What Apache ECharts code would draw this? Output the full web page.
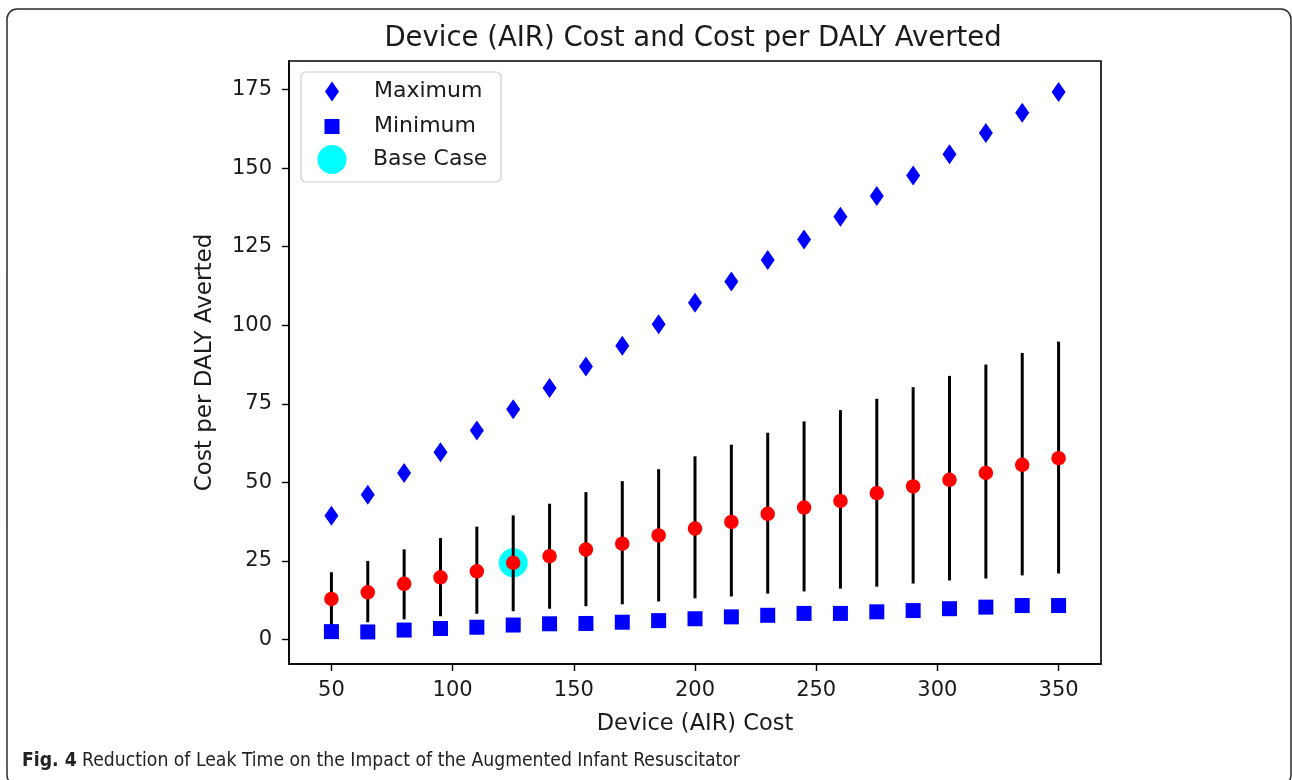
<!DOCTYPE html>
<html>
<head>
<meta charset="utf-8">
<script src="https://cdn.jsdelivr.net/npm/echarts@6/dist/echarts.min.js"></script>
<style>
  html, body { margin: 0; padding: 0; background: #fff; }
  #chart { width: 1292px; height: 780px; }
</style>
</head>
<body>
<div id="chart"></div>
<script>
const deviceCost = [50, 65, 80, 95, 110, 125, 140, 155, 170, 185, 200, 215, 230, 245, 260, 275, 290, 305, 320, 335, 350];
const maximumValues = [39.4, 46.1, 53.0, 59.6, 66.5, 73.3, 80.0, 86.9, 93.5, 100.3, 107.2, 113.9, 120.8, 127.3, 134.5, 141.1, 147.7, 154.4, 161.2, 167.6, 174.2];
const minimumValues = [2.5, 2.4, 3.0, 3.5, 3.9, 4.6, 5.0, 5.1, 5.5, 6.0, 6.6, 7.2, 7.7, 8.3, 8.3, 8.8, 9.2, 9.8, 10.3, 10.8, 10.8];
const meanValues = [12.9, 15.0, 17.7, 19.8, 21.7, 24.4, 26.5, 28.6, 30.5, 33.1, 35.3, 37.4, 40.0, 42.0, 44.1, 46.6, 48.7, 50.8, 53.0, 55.6, 57.7];
const errorLow = [4.6, 5.5, 6.4, 7.4, 8.2, 9.0, 9.8, 10.6, 11.2, 12.1, 13.1, 13.7, 14.6, 15.3, 16.2, 16.8, 17.8, 18.8, 19.4, 20.4, 21.0];
const errorHigh = [21.4, 25.0, 28.7, 32.3, 35.9, 39.5, 43.2, 46.9, 50.4, 54.2, 58.3, 62.0, 65.8, 69.4, 73.0, 76.6, 80.3, 83.9, 87.5, 91.2, 94.8];
const baseCaseX = [125];
const baseCaseY = [24.4];
const xTicks = [50, 100, 150, 200, 250, 300, 350];
const yTicks = [0, 25, 50, 75, 100, 125, 150, 175];
const titleText = 'Device (AIR) Cost and Cost per DALY Averted';
const xAxisName = 'Device (AIR) Cost';
const yAxisName = 'Cost per DALY Averted';
const captionBold = 'Fig. 4';
const captionRest = ' Reduction of Leak Time on the Impact of the Augmented Infant Resuscitator';

const FONT = 'DejaVu Sans';
const CAPFONT = '"Liberation Sans Narrow", "DejaVu Sans Condensed", sans-serif';
const pair = (xs, ys) => xs.map((x, i) => [x, ys[i]]);

const chart = echarts.init(document.getElementById('chart'), null, { renderer: 'canvas' });

const legendCommon = {
  orient: 'vertical', padding: 0, selectedMode: false, z: 6,
  textStyle: { fontFamily: FONT, fontSize: 22, color: '#1a1a1a' }
};

const option = {
  backgroundColor: '#fff',
  animation: false,
  title: {
    text: titleText, left: 688, top: 20, textAlign: 'center',
    textStyle: { fontFamily: FONT, fontSize: 27.5, fontWeight: 'normal', color: '#1a1a1a' }
  },
  grid: { left: 289, top: 61, right: 191, bottom: 116, show: true, borderColor: '#000', borderWidth: 1.6, backgroundColor: 'transparent' },
  xAxis: {
    type: 'value', min: 32.5, max: 367.5,
    name: xAxisName, nameLocation: 'middle', nameGap: 49,
    nameTextStyle: { fontFamily: FONT, fontSize: 22.5, color: '#1a1a1a' },
    axisLine: { show: true, onZero: false, lineStyle: { color: '#000', width: 1.6 } },
    axisTick: { show: true, length: 7, customValues: xTicks, lineStyle: { color: '#000', width: 1.4 } },
    axisLabel: { customValues: xTicks, margin: 16, fontFamily: FONT, fontSize: 21, color: '#1a1a1a' },
    splitLine: { show: false }
  },
  yAxis: {
    type: 'value', min: -7.8, max: 184.1,
    name: yAxisName, nameLocation: 'middle', nameGap: 72,
    nameTextStyle: { fontFamily: FONT, fontSize: 23, color: '#1a1a1a' },
    axisLine: { show: true, onZero: false, lineStyle: { color: '#000', width: 1.6 } },
    axisTick: { show: true, length: 7, customValues: yTicks, lineStyle: { color: '#000', width: 1.4 } },
    axisLabel: { customValues: yTicks, margin: 17, fontFamily: FONT, fontSize: 21, color: '#1a1a1a' },
    splitLine: { show: false }
  },
  legend: [
    Object.assign({}, legendCommon, {
      data: [{ name: 'Maximum', icon: 'diamond' }], left: 325, top: 80.5, itemWidth: 14, itemHeight: 20,
      textStyle: Object.assign({}, legendCommon.textStyle, { padding: [0, 0, 0, 30] })
    }),
    Object.assign({}, legendCommon, {
      data: [{ name: 'Minimum', icon: 'rect' }], left: 324.5, top: 115.5, itemWidth: 15, itemHeight: 15,
      textStyle: Object.assign({}, legendCommon.textStyle, { padding: [0, 0, 0, 29.5] })
    }),
    Object.assign({}, legendCommon, {
      data: [{ name: 'Base Case', icon: 'circle' }], left: 317.5, top: 145, itemWidth: 29, itemHeight: 29,
      textStyle: Object.assign({}, legendCommon.textStyle, { padding: [0, 0, 0, 21.5] })
    })
  ],
  graphic: [
    {
      type: 'rect', z: -10, silent: true,
      shape: { x: 7, y: 9, width: 1284, height: 776, r: 10 },
      style: { fill: 'none', stroke: '#2a2a2a', lineWidth: 1.5 }
    },
    {
      type: 'rect', z: 1, silent: true,
      shape: { x: 301, y: 72, width: 200, height: 110, r: 5 },
      style: { fill: 'rgba(255,255,255,0.8)', stroke: '#d0d0d0', lineWidth: 1.2 }
    },
    {
      type: 'text', x: 22, y: 752, silent: true,
      style: {
        text: '{b|' + captionBold + '}' + captionRest,
        font: '19.2px ' + CAPFONT,
        fill: '#222',
        rich: { b: { fontWeight: 'bold', fontSize: 19.2, fontFamily: CAPFONT, fill: '#222' } }
      }
    }
  ],
  series: [
    {
      name: 'Base Case', type: 'scatter', z: 1,
      data: pair(baseCaseX, baseCaseY), symbol: 'circle', symbolSize: 29,
      itemStyle: { color: '#00ffff', opacity: 1 }
    },
    {
      name: 'Range', type: 'custom', z: 2,
      data: deviceCost.map((x, i) => [x, errorLow[i], errorHigh[i]]),
      encode: { x: 0, y: [1, 2] },
      renderItem: function (params, api) {
        const p1 = api.coord([api.value(0), api.value(1)]);
        const p2 = api.coord([api.value(0), api.value(2)]);
        return {
          type: 'line',
          shape: { x1: p1[0], y1: p1[1], x2: p2[0], y2: p2[1] },
          style: { stroke: '#000', lineWidth: 3 }
        };
      }
    },
    {
      name: 'Mean', type: 'scatter', z: 3,
      data: pair(deviceCost, meanValues), symbol: 'circle', symbolSize: 14.5,
      itemStyle: { color: '#ff0000', opacity: 1 }
    },
    {
      name: 'Maximum', type: 'scatter', z: 4,
      data: pair(deviceCost, maximumValues), symbol: 'diamond', symbolSize: [14, 20],
      itemStyle: { color: '#0000ff', opacity: 1 }
    },
    {
      name: 'Minimum', type: 'scatter', z: 4,
      data: pair(deviceCost, minimumValues), symbol: 'rect', symbolSize: 15,
      itemStyle: { color: '#0000ff', opacity: 1 }
    }
  ]
};

chart.setOption(option);
</script>
</body>
</html>
